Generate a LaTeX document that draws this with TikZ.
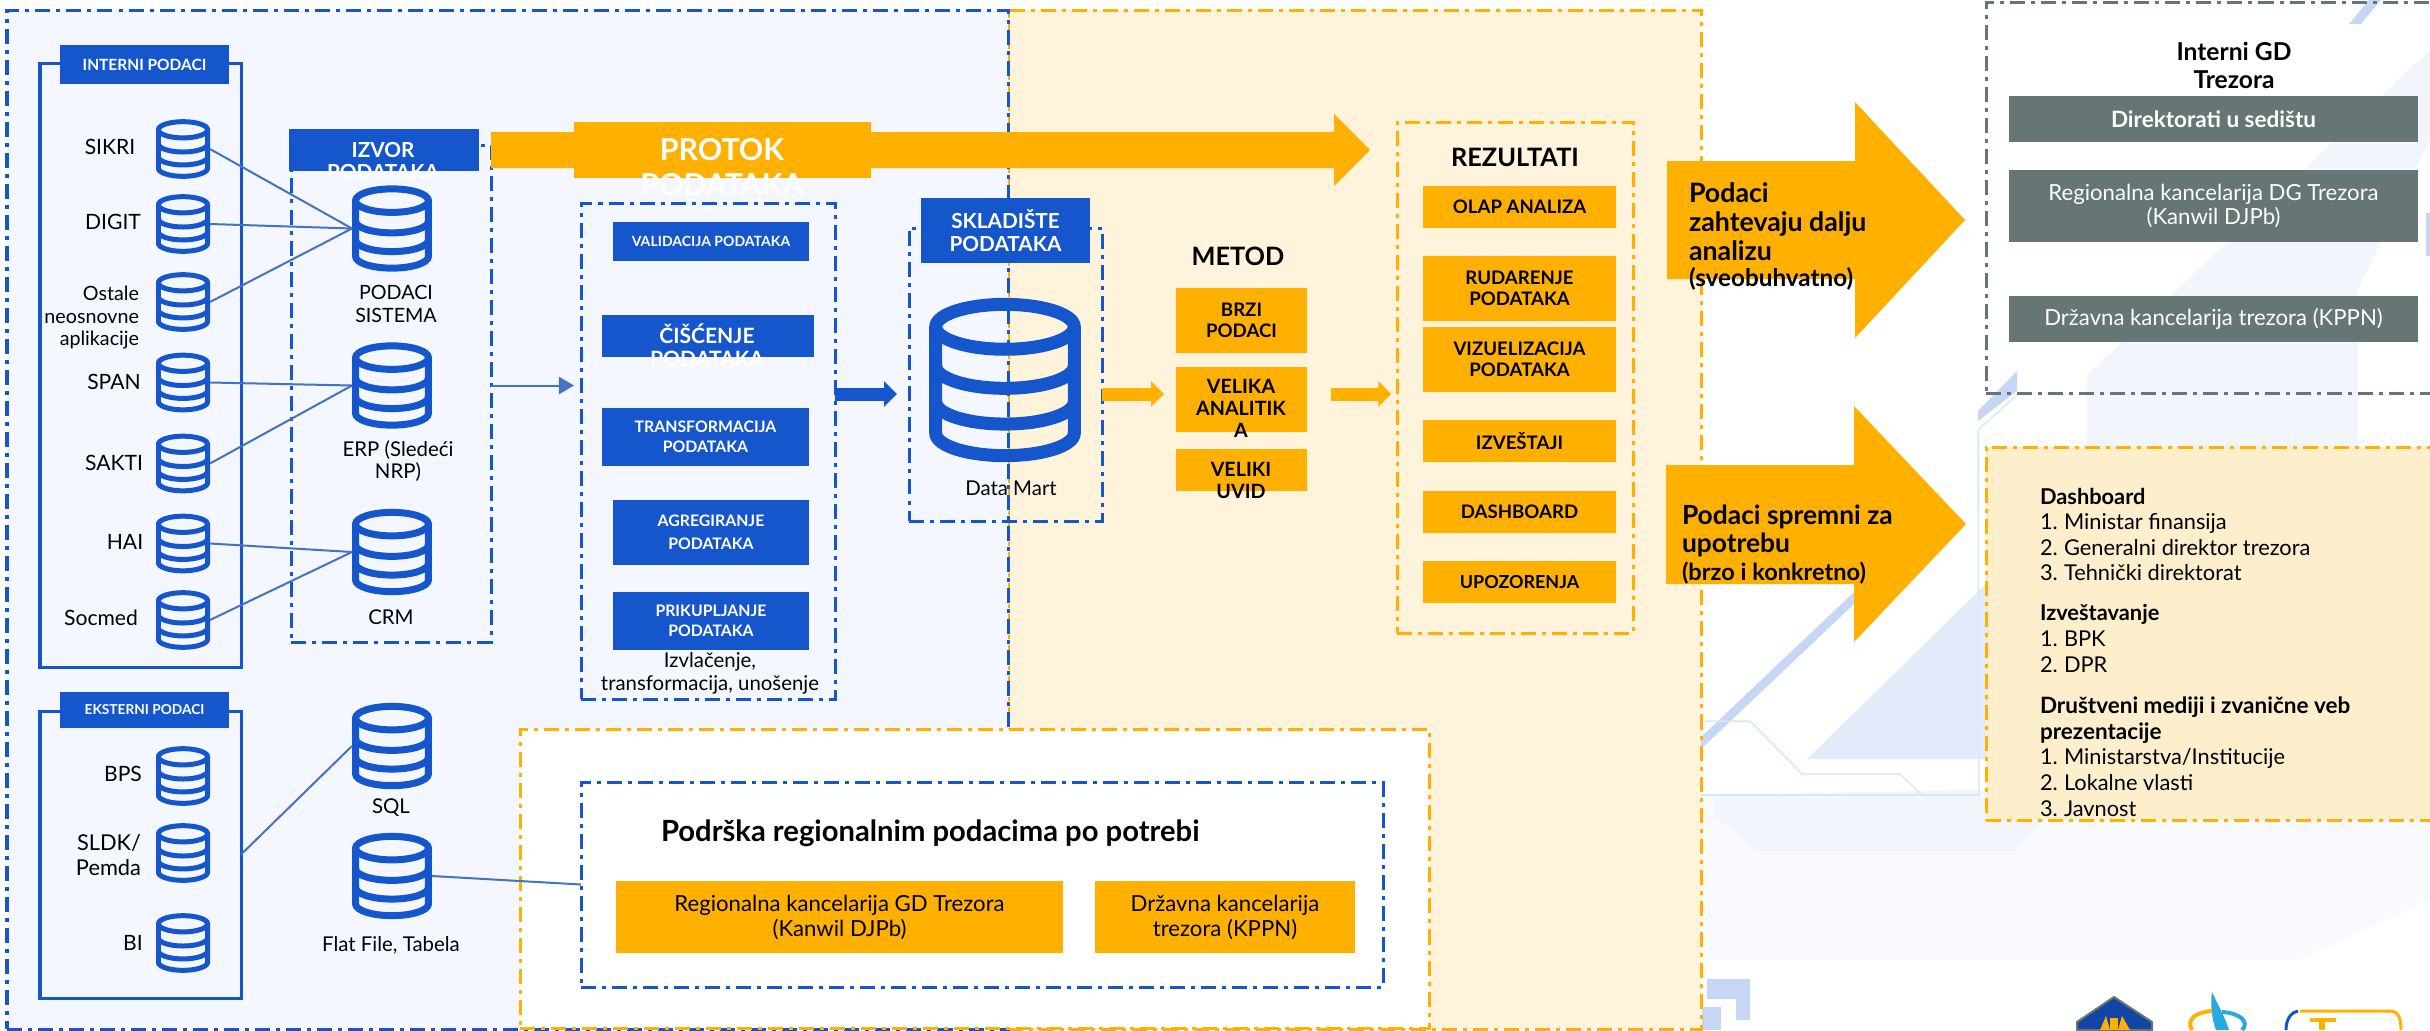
\documentclass[tikz,border=0pt]{standalone}
\usepackage{fontspec}
\setmainfont{Lato}
\usepackage{tikz}
\usetikzlibrary{arrows.meta}
\definecolor{blue_main}{HTML}{1656CD}
\definecolor{blue_line}{HTML}{4472C4}
\definecolor{orange_main}{HTML}{FFB000}
\definecolor{grey_main}{HTML}{657674}
\definecolor{panel_blue}{HTML}{F4F7FF}
\definecolor{panel_orange}{HTML}{FFF3DC}
\definecolor{panel_yellow}{HTML}{FDEFCC}
\definecolor{decor_mid}{HTML}{E3EBFA}
\definecolor{decor_pale}{HTML}{F2F5FC}
\definecolor{decor_faint}{HTML}{F9FAFD}
\definecolor{decor_strong}{HTML}{C6D7F5}
\definecolor{decor_line}{HTML}{D5EAF5}
\newcommand{\fnt}[2]{\fontsize{#1}{#2}\selectfont}
\newcommand{\numitem}[2]{\makebox[0.24cm][l]{#1}#2}
\tikzset{
  every node/.style = { inner sep=0pt, outer sep=0pt, align=center },
  dims/.style 2 args = { minimum width=#1*0.01cm, minimum height=#2*0.01cm },
  dash_blue/.style   = { draw=blue_main, line width=0.03cm,
                         dash pattern=on 0.15cm off 0.06cm on 0.04cm off 0.06cm },
  dash_orange/.style = { dash_blue, draw=orange_main },
  dash_grey/.style   = { dash_blue, draw=grey_main },
  box_blue/.style    = { fill=blue_main, text=white, font=\bfseries\fnt{4.5}{5.8} },
  box_orange/.style  = { fill=orange_main, font=\bfseries\fnt{5.3}{6.1} },
  box_grey/.style    = { fill=grey_main, text=white, font=\fnt{6.3}{6.9} },
  box_plain/.style   = { fill=orange_main, font=\fnt{6.3}{7.1} },
  label/.style       = { font=\fnt{6}{6.4} },
  title/.style       = { font=\bfseries\fnt{7.2}{8} },
  item/.style        = { anchor=base west, font=\fnt{6.2}{7} },
  link/.style        = { draw=blue_line, line width=0.02cm },
  fat_arrow/.style   = { line width=0.13cm, -{Triangle[width=0.25cm,length=0.13cm]} },
  db_icon/.style n args = {3}{
    dims={#1}{#2},
    path picture={
      \begin{scope}[shift={(path picture bounding box.center)}, x=#1*0.005cm, y=#2*0.005cm,
                    line width=#3*0.01cm, draw=blue_main]
        \draw (0,0.64) ellipse [x radius=0.91, y radius=0.27];
        \draw (-0.91,0.64) -- (-0.91,-0.64) arc [start angle=180, end angle=360, x radius=0.91, y radius=0.27] -- (0.91,0.64);
        \draw (-0.91,0.17) arc [start angle=180, end angle=360, x radius=0.91, y radius=0.27];
        \draw (-0.91,-0.26) arc [start angle=180, end angle=360, x radius=0.91, y radius=0.27];
      \end{scope}
    }
  },
  db_small/.style = { db_icon={54}{60}{5} },
  db_big/.style   = { db_icon={80}{87}{7} }
}
\begin{document}
\begin{tikzpicture}[x=0.01cm,y=-0.01cm]
  \useasboundingbox (0,0) rectangle (2430,1030);

  % Draw faint backdrop
  \fill[decor_faint] (1702,795) -- (2430,795) -- (2430,900) -- (2300,960) -- (1702,960) -- cycle;
  \fill[decor_pale] (1714,795) -- (1714,815) -- (1756,851) -- (2016,851) -- (2068,788) -- cycle;
  \fill[decor_pale] (2087,447) -- (2087,375) -- (2430,50) -- (2430,140) -- (2358,290) -- (2358,447) -- cycle;
  \fill[decor_mid] (1807,759) -- (2000,759) -- (2000,570) -- cycle;
  \fill[decor_strong] (1700,738) -- (1854,592) -- (1854,604) -- (1700,750) -- cycle;
  \fill[decor_strong] (1978,411) -- (2017,371) -- (2017,391) -- (1978,421) -- cycle;
  \fill[decor_strong] (2349,24) -- (2361,24) -- (2381,0) -- (2369,0) -- cycle;
  \fill[decor_strong] (1707,979) -- (1750,979) -- (1750,1020) -- (1736,1020) -- (1736,999) -- (1707,999) -- cycle;
  \fill[decor_strong] (1702,1007) -- (1721,1007) -- (1721,1030) -- (1702,1030) -- cycle;
  \fill[decor_strong] (2426,213) rectangle (2430,256);
  \draw[decor_line, line width=0.015cm] (1700,721) -- (1750,721) -- (1802,774) -- (1900,774) -- (1922,795) -- (1979,795) -- (1978,430) -- (2017,395);
  \draw[decor_line, line width=0.015cm] (1700,795) -- (1979,795);

  % Draw logos
  \fill[blue_main!80!black, draw=grey_main, line width=0.02cm] (2077,1030) -- (2077,1022) -- (2114,997) -- (2152,1022) -- (2152,1030) -- cycle;
  \fill[orange_main] (2100,1030) -- (2106,1016) -- (2110,1030) -- cycle;
  \fill[orange_main] (2118,1030) -- (2122,1016) -- (2130,1030) -- cycle;
  \fill[orange_main] (2110,1030) -- (2110,1018) -- (2118,1018) -- (2118,1030) -- cycle;
  \fill[blue_line!60!cyan] (2212,992) .. controls (2210,1005) and (2212,1020) .. (2216,1030) -- (2229,1030) .. controls (2224,1015) and (2218,1005) .. (2212,992);
  \draw[orange_main, line width=0.04cm] (2192,1030) .. controls (2186,1020) and (2195,1012) .. (2212,1011);
  \draw[blue_line!60!cyan, line width=0.04cm] (2222,1012) .. controls (2240,1013) and (2250,1022) .. (2242,1030);
  \draw[orange_main, line width=0.03cm] (2300,1011) -- (2390,1011) .. controls (2398,1011) and (2401,1018) .. (2401,1030);
  \draw[blue_main, line width=0.03cm] (2286,1030) .. controls (2286,1018) and (2292,1012) .. (2298,1011);
  \fill[orange_main] (2310,1018) rectangle (2336,1022);
  \fill[orange_main] (2319,1022) rectangle (2325,1030);

  % Draw panels
  \node[fill=panel_orange, dash_orange, dims={693}{1019}] (panel_right) at (1354.5,519.5) {};
  \node[fill=panel_blue, dash_blue, dims={1001}{1019}] (panel_left) at (507.5,519.5) {};
  \node[fill=white, dash_orange, dims={909}{299}] (panel_support) at (974.5,878.5) {};
  \node[dash_grey, dims={460}{391}] (panel_gd) at (2216,197.5) {};
  \node[fill=panel_yellow, dash_orange, dims={460}{373}] (panel_users) at (2216,633.5) {};

  % Draw source groups
  \node[draw=blue_main, line width=0.03cm, dims={201}{604}] (internal_box) at (140.5,365) {};
  \node[draw=blue_main, line width=0.03cm, dims={201}{287}] (external_box) at (140.5,854.5) {};
  \node[dash_blue, dims={200}{497}] (source_box) at (391,393.5) {};
  \node[dash_blue, dims={254}{496}] (process_box) at (708,451) {};
  \node[dash_blue, dims={193}{293}] (mart_box) at (1005.5,374.5) {};
  \node[dash_orange, dims={236.5}{511}] (result_box) at (1515.5,377.5) {};
  \node[dash_blue, dims={802}{205}] (support_box) at (982,884.5) {};

  \node[box_blue, dims={169}{39}, font=\bfseries\fnt{4.4}{5.8}] (internal_head) at (144.5,64.5) {INTERNI PODACI};
  \node[box_blue, dims={169}{36}, font=\bfseries\fnt{3.9}{5}] (external_head) at (144.5,710) {EKSTERNI PODACI};
  \node[fill=blue_main, dims={190}{42}] (source_head) at (384,150) {};
  \node[text=white, font=\bfseries\fnt{5.9}{6.5}] (source_text) at (383,161) {IZVOR\\PODATAKA};

  % Draw small databases
  \node[db_small] (db_sikri) at (183,149) {};
  \node[db_small] (db_digit) at (183,224) {};
  \node[db_small] (db_other) at (183,302) {};
  \node[db_small] (db_span)  at (183,382.5) {};
  \node[db_small] (db_sakti) at (183,463.5) {};
  \node[db_small] (db_hai)   at (183,543.5) {};
  \node[db_small] (db_socmed) at (183,620) {};
  \node[db_small] (db_bps)   at (183,776) {};
  \node[db_small] (db_sldk)  at (183,853) {};
  \node[db_small] (db_bi)    at (183,943) {};

  \node[label] (txt_sikri) at (110,147) {SIKRI};
  \node[label] (txt_digit) at (113,222) {DIGIT};
  \node[label, align=right, anchor=east, font=\fnt{5.6}{6.4}] (txt_other) at (139,318) {Ostale\\neosnovne\\aplikacije};
  \node[label] (txt_span)  at (114,382) {SPAN};
  \node[label] (txt_sakti) at (114,463) {SAKTI};
  \node[label] (txt_hai)   at (125,542) {HAI};
  \node[label] (txt_socmed) at (101,618) {Socmed};
  \node[label] (txt_bps)   at (123,774) {BPS};
  \node[label, align=right, anchor=east, font=\fnt{6.2}{7.2}] (txt_sldk) at (141,855) {SLDK/\\Pemda};
  \node[label] (txt_bi)    at (133,943) {BI};

  % Draw big databases
  \node[db_big] (db_system) at (392,228.5) {};
  \node[db_big] (db_erp)    at (392,385.5) {};
  \node[db_big] (db_crm)    at (392,552) {};
  \node[db_big] (db_sql)    at (392,746) {};
  \node[db_big] (db_flat)   at (392,876) {};
  \node[db_icon={152}{166}{13}] (db_mart) at (1005,380) {};

  \node[label, font=\fnt{5.6}{6.3}] (txt_system) at (396,304) {PODACI\\SISTEMA};
  \node[label, font=\fnt{5.8}{6.3}] (txt_erp)    at (398,461) {ERP (Sledeći\\NRP)};
  \node[label, font=\fnt{5.8}{6.3}] (txt_crm)    at (391,617) {CRM};
  \node[label, font=\fnt{5.8}{6.3}] (txt_sql)    at (391,808) {SQL};
  \node[label, font=\fnt{5.8}{6.3}] (txt_flat)   at (391,945) {Flat File, Tabela};
  \node[label, font=\fnt{5.8}{6.3}] (txt_mart)   at (1011,488) {Data Mart};

  % Draw links
  \draw[link] (db_sikri.east) -- (db_system.west);
  \draw[link] (db_digit.east) -- (db_system.west);
  \draw[link] (db_other.east) -- (db_system.west);
  \draw[link] (db_span.east)  -- (db_erp.west);
  \draw[link] (db_sakti.east) -- (db_erp.west);
  \draw[link] (db_hai.east)   -- (db_crm.west);
  \draw[link] (db_socmed.east) -- (db_crm.west);
  \draw[link] (external_box.east) -- (db_sql.west);
  \draw[link] (db_flat.east) -- (support_box.west);
  \draw[link, -{Triangle[width=0.17cm,length=0.15cm]}] (source_box.east |- db_erp) -- ([xshift=-0.07cm]process_box.west |- db_erp);

  % Draw flow arrow
  \fill[orange_main] (491,132) -- (1334,132) -- (1334,114) -- (1370,150) -- (1334,186) -- (1334,168) -- (491,168) -- cycle;
  \node[fill=orange_main, dims={297}{56}] (flow_head) at (722.5,150) {};
  \node[text=white, font=\bfseries\fnt{8.6}{10}] (flow_text) at (722,167) {PROTOK\\PODATAKA};

  % Draw process steps
  \node[box_blue, font=\bfseries\fnt{4}{5}] (step_valid) at (711,241.5) [dims={196}{39}] {VALIDACIJA PODATAKA};
  \node[fill=blue_main, dims={212}{42}] (step_clean) at (708,336) {};
  \node[text=white, font=\bfseries\fnt{6}{6.5}] (step_clean_text) at (707,345) {ČIŠĆENJE\\PODATAKA};
  \node[box_blue, dims={207}{58}] (step_trans) at (705.5,437) {TRANSFORMACIJA\\PODATAKA};
  \node[box_blue, dims={196}{65}, font=\bfseries\fnt{4.5}{6.6}] (step_aggr) at (711,532.5) {AGREGIRANJE\\PODATAKA};
  \node[box_blue, dims={196}{58}] (step_collect) at (711,621) {PRIKUPLJANJE\\PODATAKA};
  \node[label, font=\fnt{5.8}{6.5}] (txt_extract) at (710,673.5) {Izvlačenje,\\transformacija, unošenje};

  % Draw storage and method
  \node[box_blue, dims={169}{65}, font=\bfseries\fnt{5.9}{6.6}] (mart_head) at (1005.5,230.5) {SKLADIŠTE\\PODATAKA};
  \coordinate (flow_y) at (0,394);
  \draw[fat_arrow, blue_main] (process_box.east |- flow_y) -- (897,394);

  \node[title] (method_title) at (1238,256) {METOD};
  \node[box_orange, dims={131}{65}] (method_fast) at (1241.5,320.5) {BRZI\\PODACI};
  \node[fill=orange_main, dims={131}{65}] (method_big) at (1241.5,399.5) {};
  \node[font=\bfseries\fnt{5.6}{6.2}] (method_big_text) at (1241,408.5) {VELIKA\\ANALITIK\\A};
  \node[fill=orange_main, dims={131}{42}] (method_uvid) at (1241.5,470) {};
  \node[font=\bfseries\fnt{5.6}{6.2}] (method_uvid_text) at (1241,480.5) {VELIKI\\UVID};

  \draw[fat_arrow, orange_main, shorten >=0.12cm] (mart_box.east |- flow_y) -- (method_big.west |- flow_y);
  \draw[fat_arrow, orange_main, shorten <=0.24cm, shorten >=0.06cm] (method_big.east |- flow_y) -- (result_box.west |- flow_y);

  % Draw results
  \node[title] (result_title) at (1515,157) {REZULTATI};
  \node[box_orange, dims={193}{42}] (res_olap) at (1519.5,207) {OLAP ANALIZA};
  \node[box_orange, dims={193}{65}] (res_mining) at (1519.5,288.5) {RUDARENJE\\PODATAKA};
  \node[box_orange, dims={193}{65}] (res_visual) at (1519.5,359.5) {VIZUELIZACIJA\\PODATAKA};
  \node[box_orange, dims={193}{42}] (res_report) at (1519.5,441) {IZVEŠTAJI};
  \node[box_orange, dims={193}{42}] (res_dash) at (1519.5,512) {DASHBOARD};
  \node[box_orange, dims={193}{42}, font=\bfseries\fnt{5.1}{6.1}] (res_alert) at (1519.5,582) {UPOZORENJA};

  % Draw outcome arrows
  \fill[orange_main] (1667,161) -- (1855,161) -- (1855,102) -- (1965,220) -- (1855,338) -- (1855,279) -- (1667,279) -- cycle;
  \fill[orange_main] (1666,465) -- (1854,465) -- (1854,406) -- (1966,524) -- (1854,642) -- (1854,584) -- (1666,584) -- cycle;
  \node[anchor=west, align=left, font=\bfseries\fnt{7.6}{8.2}] (txt_further) at (1689,222) {Podaci\\zahtevaju dalju\\analizu};
  \node[anchor=west, align=left, font=\bfseries\fnt{6.9}{7.2}] (txt_further_b) at (1689,279) {(sveobuhvatno)};
  \node[anchor=west, align=left, font=\bfseries\fnt{7.5}{8}] (txt_ready) at (1682,531) {Podaci spremni za\\upotrebu};
  \node[anchor=west, align=left, font=\bfseries\fnt{6.7}{7.2}] (txt_ready_b) at (1682,573) {(brzo i konkretno)};

  % Draw internal units
  \node[title, font=\bfseries\fnt{7}{8.2}] (gd_title) at (2234,65.5) {Interni GD\\Trezora};
  \node[box_grey, dims={409}{46}, font=\bfseries\fnt{6.4}{7}] (gd_hq) at (2213.5,119) {Direktorati u sedištu};
  \node[box_grey, dims={409}{72}] (gd_region) at (2213.5,206) {Regionalna kancelarija DG Trezora\\(Kanwil DJPb)};
  \node[box_grey, dims={409}{46}] (gd_state) at (2213.5,319) {Državna kancelarija trezora (KPPN)};

  % Draw user lists
  \node[item, font=\bfseries\fnt{6.2}{7}] (list_dash) at (2040,504) {Dashboard};
  \node[item] (list_dash_a) at (2040,529) {\numitem{1.}{Ministar finansija}};
  \node[item] (list_dash_b) at (2040,555) {\numitem{2.}{Generalni direktor trezora}};
  \node[item] (list_dash_c) at (2040,580) {\numitem{3.}{Tehnički direktorat}};
  \node[item, font=\bfseries\fnt{6.2}{7}] (list_rep) at (2040,620) {Izveštavanje};
  \node[item] (list_rep_a) at (2040,646) {\numitem{1.}{BPK}};
  \node[item] (list_rep_b) at (2040,672) {\numitem{2.}{DPR}};
  \node[item, font=\bfseries\fnt{6.4}{7}] (list_soc) at (2040,713) {Društveni mediji i zvanične veb};
  \node[item, font=\bfseries\fnt{6.4}{7}] (list_soc_b) at (2040,739) {prezentacije};
  \node[item] (list_soc_c) at (2040,764) {\numitem{1.}{Ministarstva/Institucije}};
  \node[item] (list_soc_d) at (2040,790) {\numitem{2.}{Lokalne vlasti}};
  \node[item] (list_soc_e) at (2040,816) {\numitem{3.}{Javnost}};

  % Draw regional support
  \node[title, anchor=west, font=\bfseries\fnt{8.3}{9}] (support_title) at (661,833) {Podrška regionalnim podacima po potrebi};
  \node[box_plain, dims={447}{72}] (sup_region) at (839.5,917) {Regionalna kancelarija GD Trezora\\(Kanwil DJPb)};
  \node[box_plain, dims={260}{72}] (sup_state) at (1225,917) {Državna kancelarija\\trezora (KPPN)};
\end{tikzpicture}
\end{document}
